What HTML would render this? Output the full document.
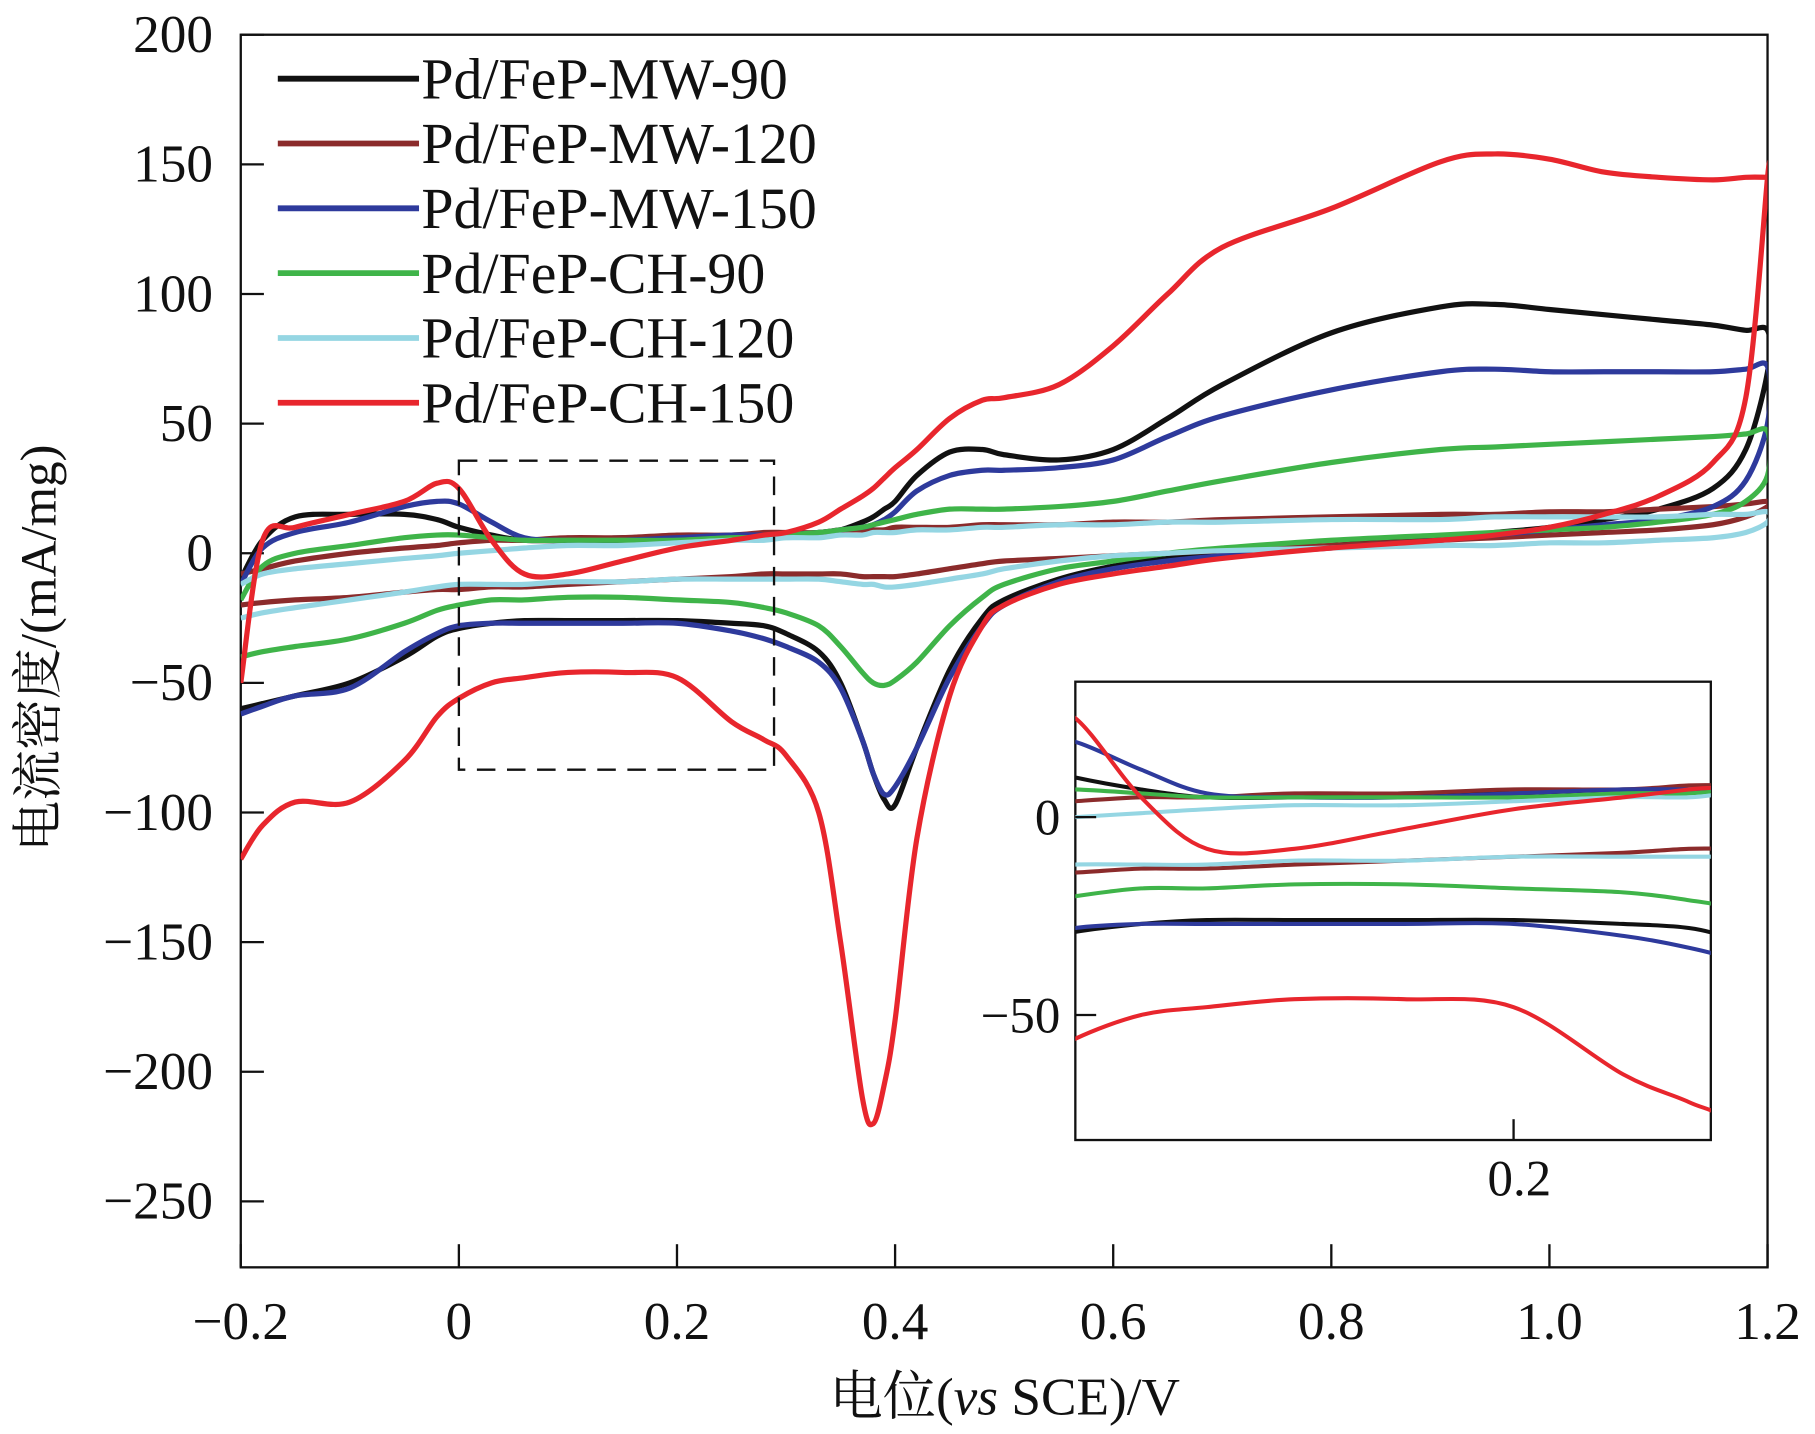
<!DOCTYPE html>
<html><head><meta charset="utf-8"><style>
html,body{margin:0;padding:0;background:#fff;width:1815px;height:1434px;overflow:hidden;}
svg{display:block;}
text{font-family:"Liberation Serif","Noto Serif CJK SC",serif;fill:#111;}
</style></head><body>
<svg id="chart" width="1815" height="1434" viewBox="0 0 1568 1239" preserveAspectRatio="none" xmlns="http://www.w3.org/2000/svg">
<defs>
<clipPath id="mainClip"><rect x="208" y="30" width="1319" height="1065"/></clipPath>
<clipPath id="insetClip"><rect x="929" y="589" width="549" height="396"/></clipPath>
</defs>
<rect x="0" y="0" width="1568" height="1239" fill="#fff"/>
<g id="main"></g>
<g id="inset"></g>
<g id="legend"></g>
<text x="0" y="0" font-size="44" text-anchor="middle" transform="translate(48,560) rotate(-90)">电流密度/(mA/mg)</text>
<text x="868" y="1222" font-size="46" text-anchor="middle">电位(<tspan font-style="italic">vs</tspan> SCE)/V</text>
</svg>
<script>
const potentials = [-0.2,-0.18,-0.15,-0.1,-0.05,-0.02,0,0.03,0.06,0.1,0.15,0.2,0.25,0.28,0.3,0.33,0.35,0.37,0.38,0.39,0.4,0.42,0.45,0.48,0.5,0.55,0.6,0.65,0.7,0.8,0.9,0.95,1.0,1.05,1.1,1.15,1.18,1.2];
const seriesNames = ["Pd/FeP-MW-90","Pd/FeP-MW-120","Pd/FeP-MW-150","Pd/FeP-CH-90","Pd/FeP-CH-120","Pd/FeP-CH-150"];
const seriesColors = ["#111111","#8b2b2b","#2e3a9c","#3fb449","#95d6e3","#e8262d"];
const mw90Fwd = [-10,5,14,15,15,13,10,7,5,5,6,6,7,7,7,8,9,12,14,17,20,30,39,40,38,36,40,52,65,85,95,96,94,92,90,88,86,86];
const mw90Back = [-60,-58,-55,-50,-40,-32,-29,-27,-26,-26,-26,-26,-27,-28,-31,-38,-50,-72,-85,-95,-97,-75,-45,-25,-18,-10,-5,-2,0,3,6,8,10,13,17,25,40,70];
const mw120Fwd = [-8,-6,-3,0,2,3,4,5,5,6,6,7,7,8,8,8,9,9,9,9,10,10,10,11,11,11,12,12,13,14,15,15,16,16,17,18,19,20];
const mw120Back = [-20,-19,-18,-17,-15,-14,-14,-13,-13,-12,-11,-10,-9,-8,-8,-8,-8,-9,-9,-9,-9,-8,-6,-4,-3,-2,-1,0,1,3,5,6,7,8,9,11,14,18];
const mw150Fwd = [-12,2,8,12,18,20,19,12,6,5,5,6,7,7,7,8,9,10,11,13,16,24,30,32,32,33,36,45,53,63,70,71,70,70,70,70,71,72];
const mw150Back = [-62,-59,-55,-52,-38,-31,-28,-27,-27,-27,-27,-27,-30,-33,-36,-42,-52,-72,-85,-93,-90,-75,-48,-28,-20,-11,-6,-3,-1,2,5,7,9,11,13,18,28,50];
const ch90Fwd = [-18,-5,0,3,6,7,7,6,5,5,5,5,6,6,7,8,9,10,11,12,13,15,17,17,17,18,20,24,28,35,40,41,42,43,44,45,46,47];
const ch90Back = [-40,-38,-36,-33,-27,-22,-20,-18,-18,-17,-17,-18,-19,-21,-23,-28,-36,-46,-50,-51,-49,-42,-28,-17,-12,-6,-3,0,2,5,7,8,9,10,12,15,20,30];
const ch120Fwd = [-12,-8,-6,-4,-2,-1,0,1,2,3,3,4,5,5,6,6,7,7,8,8,8,9,9,10,10,11,11,12,12,13,13,14,14,14,14,15,15,16];
const ch120Back = [-25,-23,-21,-18,-15,-13,-12,-12,-12,-11,-11,-10,-10,-10,-10,-10,-11,-12,-12,-13,-13,-12,-10,-8,-6,-3,-1,0,1,2,3,3,4,4,5,6,8,12];
const ch150Fwd = [-50,5,10,15,20,27,25,5,-8,-8,-3,2,5,7,8,12,17,22,25,29,33,40,52,59,60,65,80,100,118,133,151,154,152,147,145,144,145,145];
const ch150Back = [-118,-105,-96,-96,-80,-63,-56,-50,-48,-46,-46,-48,-65,-72,-78,-100,-150,-210,-220,-205,-180,-110,-55,-28,-20,-12,-8,-5,-2,2,5,7,10,15,22,35,60,145];
const fwdSets = [mw90Fwd,mw120Fwd,mw150Fwd,ch90Fwd,ch120Fwd,ch150Fwd];
const backSets = [mw90Back,mw120Back,mw150Back,ch90Back,ch120Back,ch150Back];
const yTicks = [200,150,100,50,0,-50,-100,-150,-200,-250];
const xTicks = [-0.2,0,0.2,0.4,0.6,0.8,1.0,1.2];
const xTickLabels = ["\u22120.2","0","0.2","0.4","0.6","0.8","1.0","1.2"];
const insetYTicks = [0,-50];
const insetXTicks = [0.2];

const NS="http://www.w3.org/2000/svg";
function mk(tag,attrs,parent){const e=document.createElementNS(NS,tag);for(const k in attrs)e.setAttribute(k,attrs[k]);parent.appendChild(e);return e;}
const xMain=v=>208+(v+0.2)/1.4*1319;
const yMain=v=>478-v*112/50;
const xIn=v=>929+v*1893;
const yIn=v=>706-v*171/50;

function smoothPath(pts){
  let d="M"+pts[0][0].toFixed(1)+","+pts[0][1].toFixed(1);
  for(let i=0;i<pts.length-1;i++){
    const p0=pts[Math.max(0,i-1)],p1=pts[i],p2=pts[i+1],p3=pts[Math.min(pts.length-1,i+2)];
    const c1=[p1[0]+(p2[0]-p0[0])/6,p1[1]+(p2[1]-p0[1])/6];
    const c2=[p2[0]-(p3[0]-p1[0])/6,p2[1]-(p3[1]-p1[1])/6];
    d+=" C"+c1[0].toFixed(1)+","+c1[1].toFixed(1)+" "+c2[0].toFixed(1)+","+c2[1].toFixed(1)+" "+p2[0].toFixed(1)+","+p2[1].toFixed(1);
  }
  return d;
}
function loopPts(i,fx,fy){
  const pts=[];
  for(let j=0;j<potentials.length;j++)pts.push([fx(potentials[j]),fy(fwdSets[i][j])]);
  for(let j=potentials.length-1;j>=0;j--)pts.push([fx(potentials[j]),fy(backSets[i][j])]);
  return pts;
}
const main=document.getElementById('main');
const inset=document.getElementById('inset');
const legend=document.getElementById('legend');

const frame=mk('rect',{x:208,y:30,width:1319,height:1065,fill:'none',stroke:'#111','stroke-width':2},main);


yTicks.forEach(t=>{
  const y=yMain(t);
  const l=mk('line',{x1:208,x2:228,y1:y,y2:y,stroke:'#111','stroke-width':2},main);
  
  
  const tx=mk('text',{x:184,y:y+15,'font-size':46,'text-anchor':'end'},main);
  tx.textContent=t<0?"\u2212"+(-t):String(t);
  
  
});
xTicks.forEach((t,k)=>{
  const x=xMain(t);
  const l=mk('line',{x1:x,x2:x,y1:1095,y2:1075,stroke:'#111','stroke-width':2},main);
  
  
  const tx=mk('text',{x:x,y:1157,'font-size':46,'text-anchor':'middle'},main);
  tx.textContent=xTickLabels[k];
  
  
});
const g=mk('g',{'clip-path':'url(#mainClip)'},main);
for(let i=0;i<seriesNames.length;i++){
  const p=mk('path',{d:smoothPath(loopPts(i,xMain,yMain)),fill:'none',stroke:seriesColors[i],'stroke-width':4.5,'stroke-linejoin':'round'},g);
  
  
}
const db=mk('rect',{x:xMain(0),y:yMain(35.7),width:xMain(0.289)-xMain(0),height:yMain(-83.5)-yMain(35.7),fill:'none',stroke:'#111','stroke-width':2,'stroke-dasharray':'16,10'},main);



const ib=mk('rect',{x:929,y:589,width:549,height:396,fill:'#fff',stroke:'#111','stroke-width':2},inset);


const ig=mk('g',{'clip-path':'url(#insetClip)'},inset);
for(let i=0;i<seriesNames.length;i++){
  const p=mk('path',{d:smoothPath(loopPts(i,xIn,yIn)),fill:'none',stroke:seriesColors[i],'stroke-width':3.5,'stroke-linejoin':'round'},ig);
  
  
}
insetYTicks.forEach(t=>{
  const y=yIn(t);
  const l=mk('line',{x1:929,x2:947,y1:y,y2:y,stroke:'#111','stroke-width':2},inset);
  
  
  const tx=mk('text',{x:916,y:y+15,'font-size':44,'text-anchor':'end'},inset);
  tx.textContent=t<0?"\u2212"+(-t):String(t);
  
  
});
insetXTicks.forEach(t=>{
  const x=xIn(t);
  const l=mk('line',{x1:x,x2:x,y1:985,y2:967,stroke:'#111','stroke-width':2},inset);
  
  
  const tx=mk('text',{x:x+5,y:1033,'font-size':44,'text-anchor':'middle'},inset);
  tx.textContent=String(t);
  
  
});

seriesNames.forEach((n,i)=>{
  const y=68+i*56;
  const e=mk('g',{},legend);
  
  
  mk('line',{x1:240,x2:362,y1:y,y2:y,stroke:seriesColors[i],'stroke-width':5},e);
  const tx=mk('text',{x:364,y:y+17,'font-size':50},e);
  tx.textContent=n;
});
</script>
</body></html>
